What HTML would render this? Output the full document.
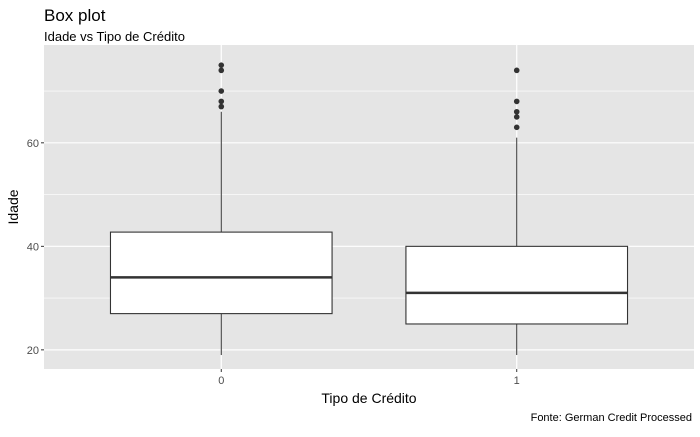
<!DOCTYPE html>
<html><head><meta charset="utf-8"><style>
body{margin:0;background:#fff;font-family:"Liberation Sans",sans-serif}
</style></head><body>
<svg width="700" height="432" xmlns="http://www.w3.org/2000/svg" font-family="Liberation Sans, sans-serif">
<text x="44" y="21" font-size="17" fill="#000">Box plot</text>
<text x="44" y="41" font-size="13" fill="#000">Idade vs Tipo de Crédito</text>
<rect x="44" y="45" width="650" height="324" fill="#e5e5e5"/>
<g id="grid"></g>
<g id="boxes"></g>
<g id="axes"></g>
<text x="369" y="403" font-size="14" text-anchor="middle" fill="#000">Tipo de Crédito</text>
<text transform="translate(18,207) rotate(-90)" font-size="14" text-anchor="middle" fill="#000">Idade</text>
<text x="692" y="421" font-size="11" text-anchor="end" fill="#000">Fonte: German Credit Processed</text>
</svg>
<script>
const categories=["0","1"];
const q1=[27,25];
const medians=[34,31];
const q3=[42.75,40];
const whiskerLow=[19,19];
const whiskerHigh=[66,61];
const outliers=[[67,68,70,74,75],[63,65,66,68,74]];
const yTicks=[20,40,60];
const yMinor=[30,50,70];
const NS="http://www.w3.org/2000/svg";
const px0=44,pw=650,py0=45,ph=324;
const yMin=16.3,yMax=78.9;
function y(v){return py0+ph-(v-yMin)/(yMax-yMin)*ph;}
const step=pw/(categories.length-1+1.2);
function x(i){return px0+step*(0.6+i);}
function mk(tag,attrs,parent){const e=document.createElementNS(NS,tag);for(const k in attrs)e.setAttribute(k,attrs[k]);document.getElementById(parent).appendChild(e);return e;}
yMinor.forEach(v=>{const l=mk('line',{x1:px0,x2:px0+pw,y1:y(v),y2:y(v),stroke:'#fff','stroke-width':0.6},'grid');

});
yTicks.forEach(v=>{const l=mk('line',{x1:px0,x2:px0+pw,y1:y(v),y2:y(v),stroke:'#fff','stroke-width':1.2},'grid');


const t=mk('line',{x1:px0-3,x2:px0,y1:y(v),y2:y(v),stroke:'#333','stroke-width':1},'axes');


const tx=mk('text',{x:px0-5,y:y(v)+4,'font-size':11,fill:'#4d4d4d','text-anchor':'end'},'axes');tx.textContent=v;

});
categories.forEach((c,i)=>{const cx=x(i);
const g=mk('line',{x1:cx,x2:cx,y1:py0,y2:py0+ph,stroke:'#fff','stroke-width':1.2},'grid');


const t=mk('line',{x1:cx,x2:cx,y1:py0+ph,y2:py0+ph+3,stroke:'#333'},'axes');


const tx=mk('text',{x:cx,y:py0+ph+15,'font-size':11,fill:'#4d4d4d','text-anchor':'middle'},'axes');tx.textContent=c;


const hw=step*0.375;
const w1=mk('line',{x1:cx,x2:cx,y1:y(q3[i]),y2:y(whiskerHigh[i]),stroke:'#333','stroke-width':1},'boxes');


const w2=mk('line',{x1:cx,x2:cx,y1:y(q1[i]),y2:y(whiskerLow[i]),stroke:'#333','stroke-width':1},'boxes');


const b=mk('rect',{x:cx-hw,y:y(q3[i]),width:2*hw,height:y(q1[i])-y(q3[i]),fill:'#fff',stroke:'#333','stroke-width':1.1},'boxes');


const m=mk('line',{x1:cx-hw,x2:cx+hw,y1:y(medians[i]),y2:y(medians[i]),stroke:'#333','stroke-width':2.5},'boxes');


outliers[i].forEach(v=>{const p=mk('circle',{cx:cx,cy:y(v),r:2.8,fill:'#333'},'boxes');

});
});
</script>
</body></html>
